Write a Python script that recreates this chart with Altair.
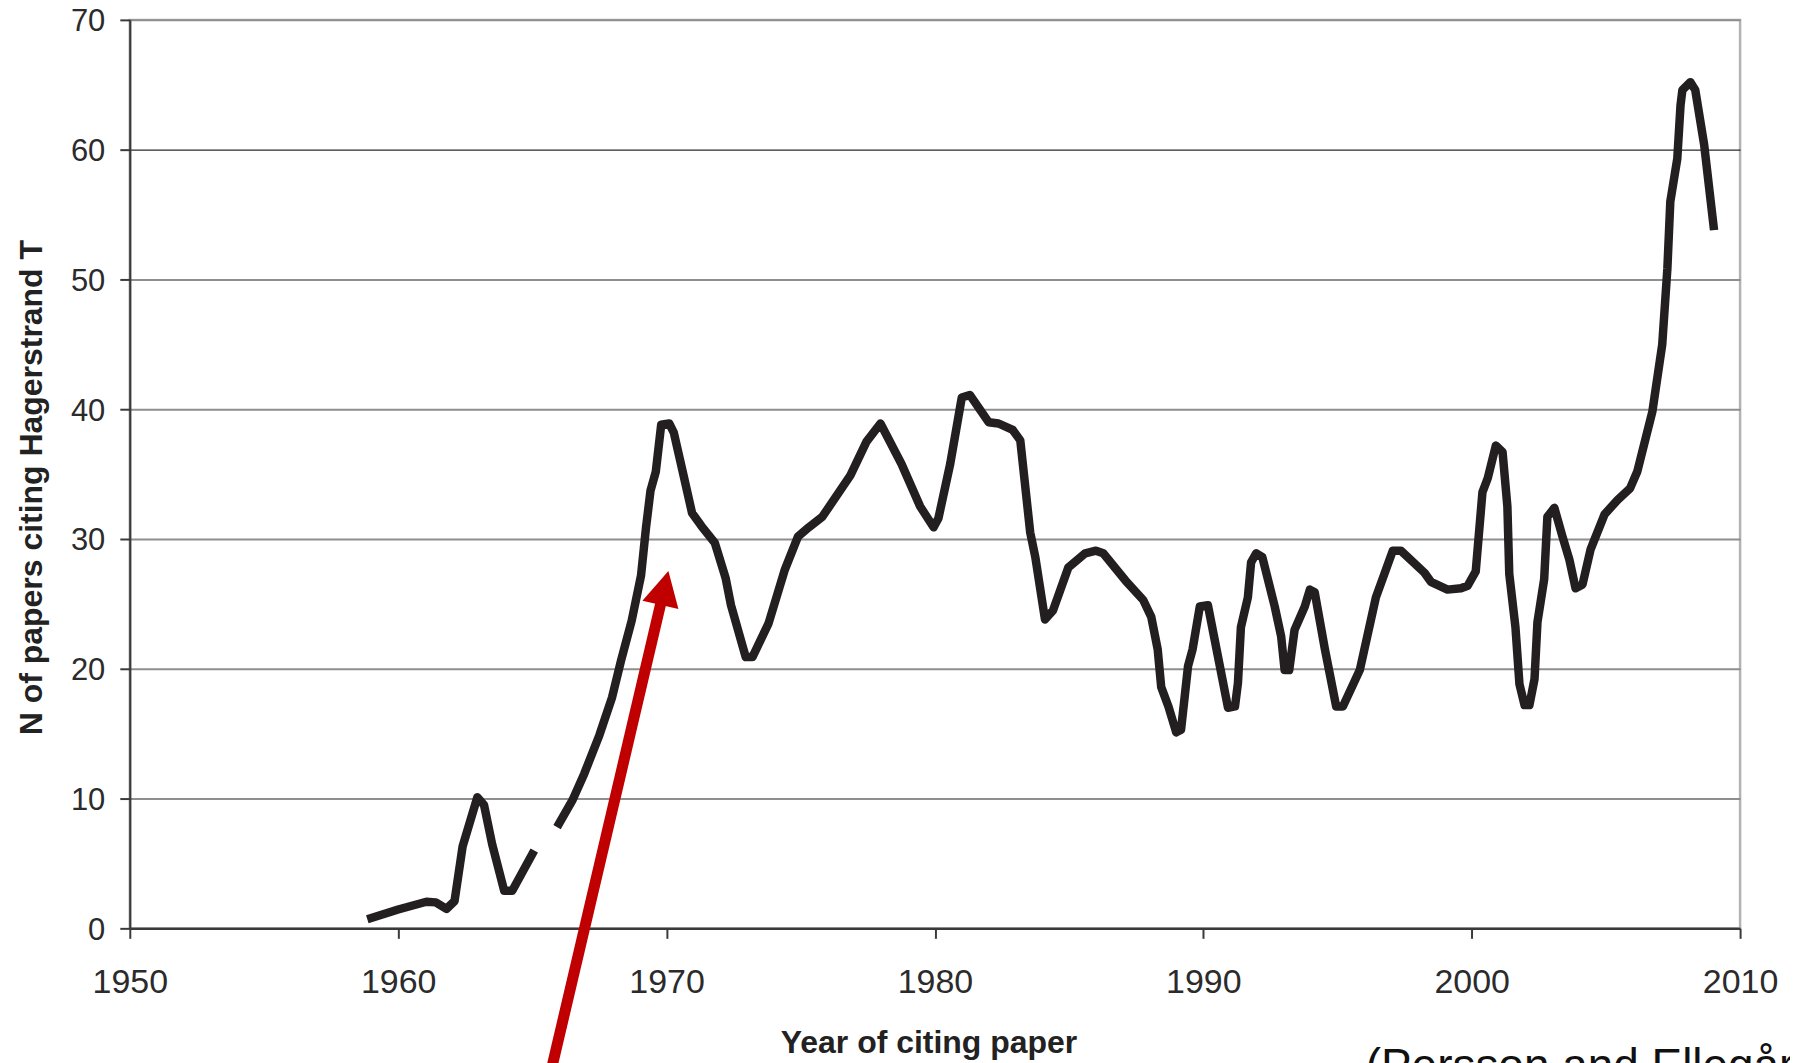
import altair as alt
import pandas as pd

# ---- data ----
seg1_years = [1958.85, 1960.0, 1961.05, 1961.4, 1961.8, 1962.1, 1962.4, 1962.95,
              1963.2, 1963.5, 1963.95, 1964.25, 1965.07]
seg1_values = [0.7, 1.45, 2.05, 2.0, 1.5, 2.1, 6.3, 10.1,
               9.5, 6.5, 2.9, 2.9, 6.0]

seg2_years = [1965.92, 1966.5, 1966.93, 1967.5, 1967.97, 1968.3, 1968.7, 1969.05,
              1969.23, 1969.4, 1969.6, 1969.8, 1970.1, 1970.27, 1970.6, 1970.95,
              1971.3, 1971.8, 1972.2, 1972.4, 1972.95, 1973.2, 1973.8, 1974.4,
              1974.9, 1975.3, 1975.8, 1976.85, 1977.45, 1977.97, 1978.75, 1979.45,
              1979.95, 1980.13, 1980.57, 1981.0, 1981.3, 1982.0, 1982.37, 1982.9,
              1983.18, 1983.55, 1983.74, 1984.1, 1984.4, 1984.97, 1985.6, 1986.0,
              1986.27, 1987.1, 1987.76, 1988.06, 1988.3, 1988.43, 1988.7, 1988.99,
              1989.17, 1989.43, 1989.6, 1989.87, 1990.17, 1990.55, 1990.92, 1991.18,
              1991.29, 1991.4, 1991.66, 1991.78, 1991.97, 1992.2, 1992.66, 1992.9,
              1993.03, 1993.2, 1993.4, 1993.78, 1993.97, 1994.15, 1994.53, 1994.95,
              1995.2, 1995.83, 1996.43, 1997.06, 1997.36, 1998.24, 1998.48, 1999.1,
              1999.6, 1999.85, 2000.15, 2000.4, 2000.6, 2000.9, 2001.15, 2001.33,
              2001.4, 2001.63, 2001.78, 2001.97, 2002.15, 2002.34, 2002.45, 2002.7,
              2002.82, 2003.08, 2003.38, 2003.64, 2003.87, 2004.13, 2004.43, 2004.95,
              2005.43, 2005.9, 2006.17, 2006.73, 2007.1, 2007.29, 2007.4, 2007.66,
              2007.78, 2007.85, 2008.15, 2008.33, 2008.66, 2009.03]
seg2_values = [7.8, 9.9, 11.9, 14.9, 17.8, 20.6, 23.7, 27.2,
               30.8, 33.7, 35.2, 38.8, 38.9, 38.2, 35.2, 32.0,
               31.0, 29.7, 27.0, 24.9, 20.9, 20.9, 23.5, 27.6,
               30.2, 30.9, 31.7, 34.9, 37.5, 38.9, 35.8, 32.5,
               30.9, 31.6, 35.8, 40.9, 41.1, 39.0, 38.9, 38.4,
               37.6, 30.5, 28.6, 23.8, 24.5, 27.8, 28.9, 29.1,
               28.9, 26.8, 25.3, 24.0, 21.5, 18.6, 17.1, 15.1,
               15.3, 20.2, 21.5, 24.8, 24.9, 20.9, 17.0, 17.1,
               18.9, 23.2, 25.5, 28.2, 28.9, 28.6, 24.8, 22.5,
               19.9, 19.9, 23.0, 24.8, 26.1, 25.9, 21.5, 17.1,
               17.1, 19.9, 25.5, 29.1, 29.1, 27.4, 26.7, 26.1,
               26.2, 26.4, 27.5, 33.6, 34.7, 37.2, 36.7, 32.5,
               27.3, 23.2, 18.8, 17.2, 17.2, 19.2, 23.6, 26.9,
               31.7, 32.4, 30.2, 28.4, 26.2, 26.5, 29.2, 31.9,
               33.0, 33.9, 35.2, 39.8, 45.0, 50.8, 56.0, 59.3,
               63.4, 64.6, 65.2, 64.6, 60.4, 53.8]

x_ticks = [1950, 1960, 1970, 1980, 1990, 2000, 2010]
y_ticks = [0, 10, 20, 30, 40, 50, 60, 70]

# red annotation arrow (data units)
arrow_shaft_start = [1965.58, -12.0]
arrow_shaft_end = [1969.79, 25.08]
arrow_head_center = [1969.92, 26.23]

citation_text = ["(Persson and Ellegård"]

# ---- tables ----
line_df = pd.DataFrame({
    "year": seg1_years + seg2_years,
    "value": seg1_values + seg2_values,
    "seg": ["a"] * len(seg1_years) + ["b"] * len(seg2_years),
})
shaft_df = pd.DataFrame({
    "year": [arrow_shaft_start[0]], "value": [arrow_shaft_start[1]],
    "year2": [arrow_shaft_end[0]], "value2": [arrow_shaft_end[1]],
})
head_df = pd.DataFrame({"year": [arrow_head_center[0]], "value": [arrow_head_center[1]]})
cite_df = pd.DataFrame({"t": citation_text})

xscale = alt.Scale(domain=[1950, 2010], nice=False, zero=False)
yscale = alt.Scale(domain=[0, 70], nice=False, zero=False)

x_axis = alt.Axis(values=x_ticks, format="d", title="Year of citing paper",
                  grid=False, labelFontSize=34, labelPadding=27, tickSize=10,
                  labelFlush=False,
                  titleX=800, titleY=124, titleBaseline="alphabetic")
y_axis = alt.Axis(values=y_ticks, format="d", title="N of papers citing Hagerstrand T",
                  grid=True, labelFontSize=31, labelPadding=15, tickSize=10,
                  labelOffset=2,
                  titleX=-98, titleY=468, titleBaseline="middle",
                  gridColor={"condition": {"test": "datum.value === 60", "value": "#2a2a2a"},
                             "value": "#8e8e8e"},
                  gridWidth={"condition": {"test": "datum.value === 60", "value": 1.3},
                             "value": 2})

X = alt.X("year:Q", scale=xscale, axis=x_axis, title="Year of citing paper")
Y = alt.Y("value:Q", scale=yscale, axis=y_axis, title="N of papers citing Hagerstrand T")

line = alt.Chart(line_df).mark_line(
    color="#231f20", strokeWidth=8.5, strokeJoin="round", strokeCap="butt"
).encode(x=X, y=Y, detail="seg:N")

shaft = alt.Chart(shaft_df).mark_rule(
    color="#c00000", strokeWidth=11, strokeCap="butt"
).encode(x=X, y=Y, x2="year2:Q", y2="value2:Q")

head = alt.Chart(head_df).mark_point(
    shape="M0,-0.944L-1,0.944L1,0.944Z", filled=True, color="#c00000",
    size=1369, angle=13.2, opacity=1, strokeWidth=0
).encode(x=X, y=Y)

cite = alt.Chart(cite_df).mark_text(
    align="left", baseline="alphabetic", fontSize=46, font="Liberation Sans",
    color="#111111"
).encode(
    x=alt.value(1238),
    y=alt.value(1063),
    text="t:N",
)

chart = alt.layer(line, shaft, head, cite).properties(
    width=1613, height=910,
    autosize=alt.AutoSizeParams(type="none"),
    padding={"left": 122, "top": 11, "right": 50, "bottom": 141},
    background="white",
).configure(
    font="Liberation Sans",
).configure_view(
    stroke="#b3b3b3", strokeWidth=2.5,
).configure_axis(
    labelFont="Liberation Sans", labelColor="#2b2b2b",
    titleFont="Liberation Sans", titleColor="#222222",
    titleFontSize=32, titleFontWeight="bold",
    domainColor="#3a3a3a", domainWidth=2.2,
    tickColor="#3a3a3a", tickWidth=2,
)

chart.save("out.html", embed_options={"renderer": "svg", "actions": False})
